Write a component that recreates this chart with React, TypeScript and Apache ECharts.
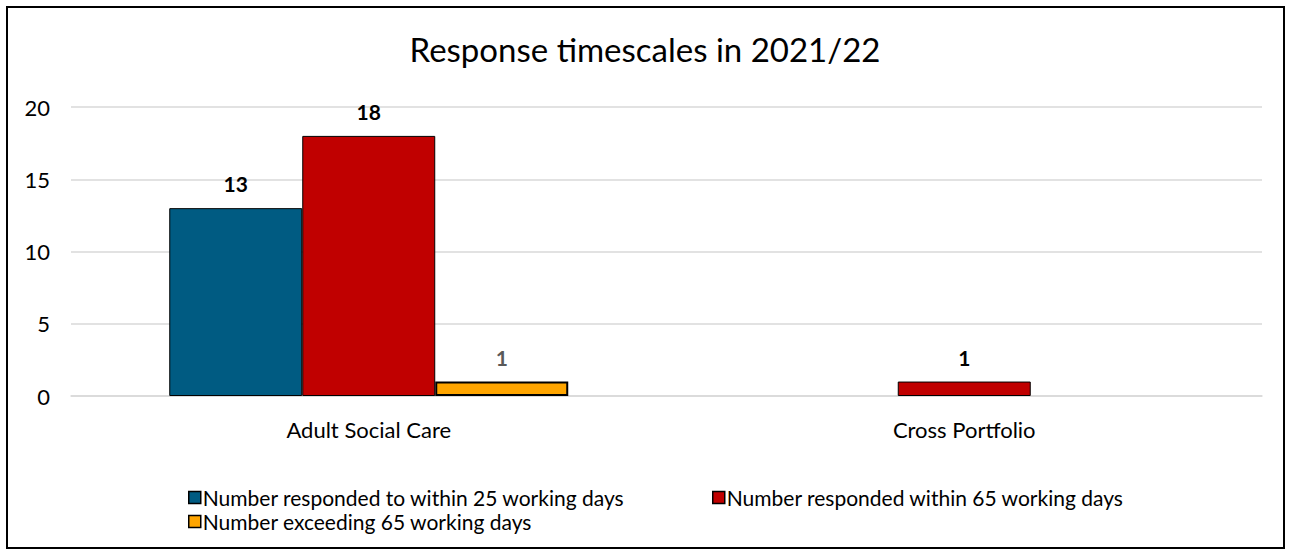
import React, { useEffect, useRef } from "react";
import * as echarts from "echarts";

const categories = ["Adult Social Care", "Cross Portfolio"];
const seriesNames = [
  "Number responded to within 25 working days",
  "Number responded within 65 working days",
  "Number exceeding 65 working days",
];
const within25 = [13, null];
const within65 = [18, 1];
const exceeding65 = [1, null];
const yTicks = [0, 5, 10, 15, 20];

const FONT = "Lato, 'Noto Sans', sans-serif";

export default function App() {
  const ref = useRef<HTMLDivElement>(null);
  useEffect(() => {
    if (!ref.current) return;
    const chart = echarts.init(ref.current, undefined, { renderer: "svg" });
    const colors = ["#005b82", "#c00000", "#ffa500"];
    const data = [within25, within65, exceeding65];
    const labelColors = ["#000000", "#000000", "#595959"];
    chart.setOption({
      animation: false,
      backgroundColor: "#ffffff",
      textStyle: { fontFamily: FONT },
      title: {
        text: "Response timescales in 2021/22",
        left: "center",
        top: 27,
        textStyle: { fontFamily: FONT, fontSize: 33, fontWeight: "normal", color: "#000" },
      },
      graphic: [
        {
          type: "rect",
          shape: { x: 7, y: 7, width: 1277, height: 541 },
          style: { fill: "none", stroke: "#000", lineWidth: 2 },
          silent: true,
        },
      ],
      legend: [
        { left: 183, top: 482, names: [0] },
        { left: 707, top: 482, names: [1] },
        { left: 183, top: 506, names: [2] },
      ].map((l) => ({
        left: l.left,
        top: l.top,
        data: l.names.map((i) => seriesNames[i]),
        itemWidth: 12,
        itemHeight: 12,
        itemGap: 10,
        icon: "rect",
        textStyle: { fontFamily: FONT, fontSize: 21, color: "#000", padding: [0, 0, 0, -3] },
        itemStyle: { borderColor: "#000", borderWidth: 1.5 },
        selectedMode: false,
      })),
      grid: { left: 71, right: 28, top: 107, bottom: 160, containLabel: false },
      xAxis: {
        type: "category",
        data: categories,
        axisLine: { show: true, lineStyle: { color: "#d9d9d9", width: 1.5 } },
        axisTick: { show: false },
        axisLabel: { fontFamily: FONT, fontSize: 22, color: "#000", margin: 22 },
      },
      yAxis: {
        type: "value",
        min: 0,
        max: yTicks[yTicks.length - 1],
        interval: 5,
        axisLine: { show: false },
        axisTick: { show: false },
        splitLine: { lineStyle: { color: "#d9d9d9", width: 1.5 } },
        axisLabel: { fontFamily: FONT, fontSize: 22, color: "#000", margin: 21 },
      },
      series: seriesNames.map((name, i) => ({
        name,
        type: "bar",
        data: data[i],
        barGap: "0%",
        barCategoryGap: "33%",
        itemStyle: {
          color: colors[i],
          borderColor: "#000",
          borderWidth: i === 2 ? 2 : 1,
        },
        label: {
          show: true,
          position: "top",
          distance: 14,
          fontFamily: FONT,
          fontSize: 21,
          fontWeight: "bold",
          color: labelColors[i],
        },
      })),
    });
    return () => chart.dispose();
  }, []);
  return (
    <div
      ref={ref}
      style={{ position: "absolute", left: 0, top: 0, width: 1290, height: 556 }}
    />
  );
}
